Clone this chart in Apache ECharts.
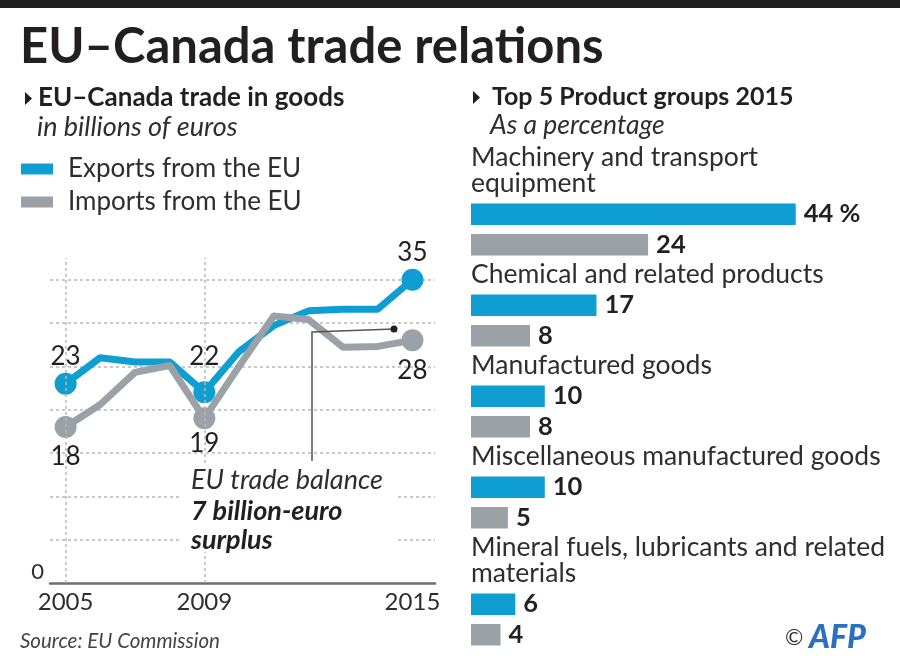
<!DOCTYPE html>
<html>
<head>
<meta charset="utf-8">
<script src="https://cdn.jsdelivr.net/npm/echarts@6.0.0/dist/echarts.min.js"></script>
<style>
html, body { margin: 0; padding: 0; background: #fff; }
#main { width: 900px; height: 670px; }
</style>
</head>
<body>
<div id="main"></div>
<script>
// EU-Canada trade in goods, billions of euros
var years = [2005, 2006, 2007, 2008, 2009, 2010, 2011, 2012, 2013, 2014, 2015];
var yearLabels = [2005, 2009, 2015];
var exportsEU = [23, 26.0, 25.5, 25.5, 22, 26.7, 29.7, 31.4, 31.6, 31.6, 35];
var importsEU = [18, 20.6, 24.3, 25.1, 19, 25.0, 30.8, 30.4, 27.2, 27.3, 28];

// top 5 product groups 2015, percent
var groupNames = [
    'Machinery and transport\nequipment',
    'Chemical and related products',
    'Manufactured goods',
    'Miscellaneous manufactured goods',
    'Mineral fuels, lubricants and related\nmaterials'
];
var groupExports = [44, 17, 10, 10, 6];
var groupImports = [24, 8, 8, 5, 4];

var BLUE = '#0e9ed2',
    GREY = '#9aa2a8',
    INK = '#231f20',
    TXT = '#2e2e2e',
    FONT = 'Lato, "Noto Sans", sans-serif';

var chart = echarts.init(document.getElementById('main'), null, {renderer: 'canvas'});

function lineData(vals, dists) {
    return years.map(function (y, i) {
        var k = yearLabels.indexOf(y);
        var item = {value: [y, vals[i]]};
        if (k >= 0) {
            item.symbol = 'circle';
            item.symbolSize = 22;
            item.label = {show: true, distance: dists[k]};
        } else {
            item.symbol = 'none';
        }
        return item;
    });
}

var grids = [{left: 50, top: 258, width: 385, height: 325}];
var xAxes = [{
    type: 'value', gridIndex: 0, min: 2004.55, max: 2015.65,
    axisLine: {lineStyle: {color: '#6d6e70', width: 2.5}},
    axisTick: {show: false},
    splitLine: {show: false},
    axisLabel: {
        customValues: yearLabels, margin: 7,
        fontSize: 24, color: TXT, fontFamily: FONT,
        formatter: function (v) { return String(v); }
    }
}];
var yAxes = [{
    type: 'value', gridIndex: 0, min: 0, max: 37.5, interval: 5,
    axisLine: {show: false},
    axisTick: {show: false},
    axisLabel: {
        margin: 6, fontSize: 22, color: TXT, fontFamily: FONT, verticalAlign: 'bottom',
        formatter: function (v) { return v === 0 ? '0' : ''; }
    },
    splitLine: {showMinLine: false, showMaxLine: false, lineStyle: {color: '#b8b8b8', width: 1.5, type: [3, 3]}}
}];

var series = [
    // pink band for the 2015 surplus
    {
        type: 'line', stack: 'band', xAxisIndex: 0, yAxisIndex: 0, silent: true,
        symbol: 'none', lineStyle: {opacity: 0},
        data: [[years[9], importsEU[9]], [years[10], importsEU[10]]]
    },
    {
        type: 'line', stack: 'band', xAxisIndex: 0, yAxisIndex: 0, silent: true,
        symbol: 'none', lineStyle: {opacity: 0},
        areaStyle: {color: '#f3e1d9', opacity: 1},
        data: [[years[9], exportsEU[9] - importsEU[9]], [years[10], exportsEU[10] - importsEU[10]]]
    },
    {
        name: 'Exports from the EU', type: 'line', xAxisIndex: 0, yAxisIndex: 0,
        showAllSymbol: true, z: 3,
        itemStyle: {color: BLUE},
        lineStyle: {color: BLUE, width: 7, join: 'round', cap: 'round'},
        label: {show: false, position: 'top', fontSize: 26, color: INK, fontFamily: FONT,
            formatter: function (p) { return p.value[1]; }},
        markLine: {
            silent: true, symbol: 'none', label: {show: false},
            lineStyle: {color: '#b8b8b8', width: 1.5, type: [3, 3]},
            data: [{xAxis: 2005}, {xAxis: 2009}]
        },
        data: lineData(exportsEU, [3, 12, 3])
    },
    {
        name: 'Imports from the EU', type: 'line', xAxisIndex: 0, yAxisIndex: 0,
        showAllSymbol: true, z: 4,
        itemStyle: {color: GREY},
        lineStyle: {color: GREY, width: 7, join: 'round', cap: 'round'},
        label: {show: false, position: 'bottom', fontSize: 26, color: INK, fontFamily: FONT,
            formatter: function (p) { return p.value[1]; }},
        data: lineData(importsEU, [6, 1, 6])
    }
];

// product group bars, one small grid per group
var rowY = 144;
for (var k = 0; k < groupNames.length; k++) {
    var nLines = groupNames[k].split('\n').length;
    var gTop = rowY + nLines * 26 + 3;
    grids.push({left: 471, top: gTop, width: 369, height: 61});
    xAxes.push({type: 'value', gridIndex: k + 1, min: 0, max: 50, show: false});
    yAxes.push({
        type: 'category', gridIndex: k + 1, data: ['Imports', 'Exports'],
        axisLine: {show: false}, axisTick: {show: false}, axisLabel: {show: false},
        name: groupNames[k], nameLocation: 'end', nameGap: 3,
        nameTextStyle: {align: 'left', verticalAlign: 'bottom', fontSize: 26.5, lineHeight: 26,
            color: TXT, fontFamily: FONT}
    });
    series.push({
        type: 'bar', xAxisIndex: k + 1, yAxisIndex: k + 1, barWidth: 21.5, silent: true,
        label: {
            show: true, position: 'right', distance: 8, fontSize: 25.5, fontWeight: 'bold',
            color: INK, fontFamily: FONT,
            formatter: function (p) { return (p.dataIndex === 1 && p.seriesIndex === 4) ? p.value + ' %' : p.value; }
        },
        data: [
            {value: groupImports[k], itemStyle: {color: GREY}},
            {value: groupExports[k], itemStyle: {color: BLUE}}
        ]
    });
    rowY = gTop + 62;
}

function txt(x, yy, s, font, color) {
    return {type: 'text', z: 100, style: {x: x, y: yy, text: s, font: font, fill: color || TXT, verticalAlign: 'middle'}};
}

var option = {
    animation: false,
    backgroundColor: '#fff',
    grid: grids,
    xAxis: xAxes,
    yAxis: yAxes,
    legend: {
        left: 16, top: 151, orient: 'vertical', icon: 'rect',
        itemWidth: 32, itemHeight: 11, itemGap: 7, selectedMode: false,
        data: ['Exports from the EU', 'Imports from the EU'],
        textStyle: {fontSize: 26, color: TXT, fontFamily: FONT, padding: [0, 0, 0, 10]}
    },
    graphic: [
        {type: 'rect', z: 100, shape: {x: 0, y: 0, width: 900, height: 8}, style: {fill: INK}},
        txt(20, 47, 'EU–Canada trade relations', 'bold 49px ' + FONT, INK),
        {type: 'polygon', z: 100, shape: {points: [[25, 92], [32, 98.5], [25, 105]]}, style: {fill: INK}},
        txt(38, 98, 'EU–Canada trade in goods', 'bold 26px ' + FONT, INK),
        txt(37, 127, 'in billions of euros', 'italic 27px ' + FONT),
        {type: 'polygon', z: 100, shape: {points: [[473, 91], [480, 97.5], [473, 104]]}, style: {fill: INK}},
        txt(492, 97, 'Top 5 Product groups 2015', 'bold 25px ' + FONT, INK),
        txt(490, 125, 'As a percentage', 'italic 26.5px ' + FONT),
        // trade balance note
        {type: 'rect', z: 99, shape: {x: 181, y: 464, width: 214, height: 88}, style: {fill: '#fff'}},
        {type: 'polyline', z: 100, shape: {points: [[394, 329], [312, 332], [312, 461]]}, style: {stroke: '#555', lineWidth: 1.5, fill: null}},
        {type: 'circle', z: 100, shape: {cx: 394, cy: 329, r: 3.5}, style: {fill: INK}},
        txt(191, 480, 'EU trade balance', 'italic 27px ' + FONT),
        txt(191, 511, '7 billion-euro', 'italic bold 27px ' + FONT, INK),
        txt(191, 540, 'surplus', 'italic bold 27px ' + FONT, INK),
        txt(20, 641, 'Source: EU Commission', 'italic 20.5px ' + FONT, '#444'),
        txt(785, 638, '©', '22px ' + FONT, '#333'),
        txt(809, 638, 'AFP', 'italic 900 32px ' + FONT, '#2b6fc2')
    ],
    series: series
};

chart.setOption(option);
</script>
</body>
</html>
